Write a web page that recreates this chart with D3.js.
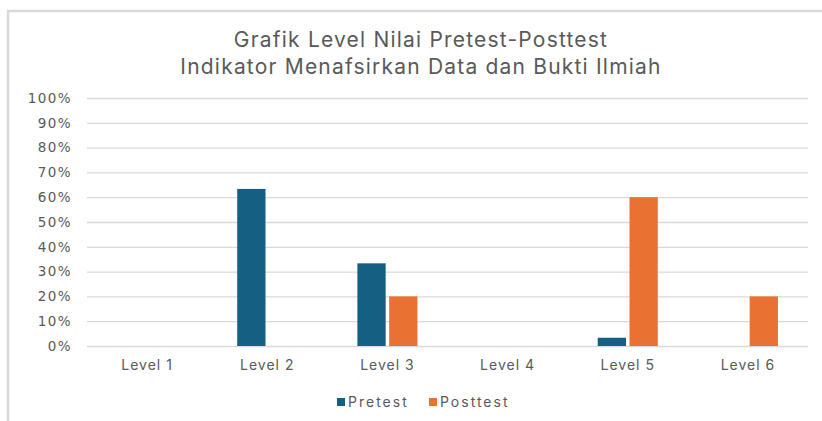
<!DOCTYPE html>
<meta charset="utf-8">
<style>
body { margin: 0; background: #fff; }
.grid line { stroke: #d9d9d9; stroke-width: 1.3px; }
.grid .domain { display: none; }
.title { font-family: Inter, "Open Sans", sans-serif; font-size: 21px; fill: #595959; letter-spacing: 1.2px; }
.ylab text { font-family: "DejaVu Sans", sans-serif; font-size: 13.5px; fill: #595959; letter-spacing: 1.4px; }
.xlab text { font-family: Inter, sans-serif; font-size: 14px; fill: #595959; letter-spacing: 1px; }
.legend text { font-family: Inter, sans-serif; font-size: 14px; fill: #595959; letter-spacing: 2px; }
</style>
<body>
<script src="https://d3js.org/d3.v7.min.js"></script>
<script>

var levels = ["Level 1", "Level 2", "Level 3", "Level 4", "Level 5", "Level 6"];
var pretest = [0, 63.33, 33.33, 0, 3.33, 0];
var posttest = [0, 0, 20, 0, 60, 20];
var seriesNames = ["Pretest", "Posttest"];
var colors = ["#156082", "#e97132"];
var yTicks = [0, 10, 20, 30, 40, 50, 60, 70, 80, 90, 100];

var W = 822, H = 421;
var margin = {top: 98, right: 14, bottom: 75, left: 87},
    width = W - margin.left - margin.right,
    height = H - margin.top - margin.bottom;

var svg = d3.select("body").append("svg")
    .attr("width", W)
    .attr("height", H);

// chart frame (cut off at right and bottom as in the source)
svg.append("path")
    .attr("d", "M8," + H + "V11H" + W)
    .attr("fill", "none")
    .attr("stroke", "#d9d9d9")
    .attr("stroke-width", 2.5);

svg.append("text").attr("class", "title")
    .attr("x", 421).attr("y", 47)
    .attr("text-anchor", "middle")
    .text("Grafik Level Nilai Pretest-Posttest");
svg.append("text").attr("class", "title")
    .attr("x", 421).attr("y", 74)
    .attr("text-anchor", "middle")
    .text("Indikator Menafsirkan Data dan Bukti Ilmiah");

var g = svg.append("g")
    .attr("transform", "translate(" + margin.left + "," + margin.top + ")");

var x0 = d3.scaleBand().domain(levels).range([0, width]);
var x1 = d3.scaleBand().domain(seriesNames)
    .range([x0.bandwidth() * 0.25, x0.bandwidth() * 0.75])
    .paddingInner(0.11);
var y = d3.scaleLinear().domain([0, 100]).range([height, 0]);

g.append("g").attr("class", "grid")
    .call(d3.axisLeft(y).tickValues(yTicks).tickSize(-width).tickFormat(""));

g.append("g").attr("class", "ylab")
    .call(d3.axisLeft(y).tickValues(yTicks).tickSize(0).tickPadding(15)
      .tickFormat(function(d) { return d + "%"; }))
    .call(function(a) { a.select(".domain").remove(); });

g.append("g").attr("class", "xlab")
    .attr("transform", "translate(0," + height + ")")
    .call(d3.axisBottom(x0).tickSize(0).tickPadding(14))
    .call(function(a) { a.select(".domain").remove(); });

var data = levels.map(function(l, i) {
  return {level: l, values: [pretest[i], posttest[i]]};
});

var groups = g.selectAll(".grp").data(data).enter().append("g")
    .attr("transform", function(d) { return "translate(" + x0(d.level) + ",0)"; });

groups.selectAll("rect")
    .data(function(d) { return d.values.map(function(v, j) { return {s: seriesNames[j], v: v, c: colors[j]}; }); })
    .enter().filter(function(d) { return d.v > 0; }).append("rect")
    .attr("x", function(d) { return x1(d.s); })
    .attr("width", x1.bandwidth())
    .attr("y", function(d) { return y(d.v); })
    .attr("height", function(d) { return height - y(d.v); })
    .attr("fill", function(d) { return d.c; });

var legend = svg.append("g").attr("class", "legend")
    .attr("transform", "translate(0,402)");
var lx = [337, 429];
seriesNames.forEach(function(s, i) {
  legend.append("rect").attr("x", lx[i]).attr("y", -4).attr("width", 8).attr("height", 8)
    .attr("fill", colors[i]);
  legend.append("text").attr("x", lx[i] + 11).attr("y", 0).attr("dy", "0.35em").text(s);
});

</script>
</body>
